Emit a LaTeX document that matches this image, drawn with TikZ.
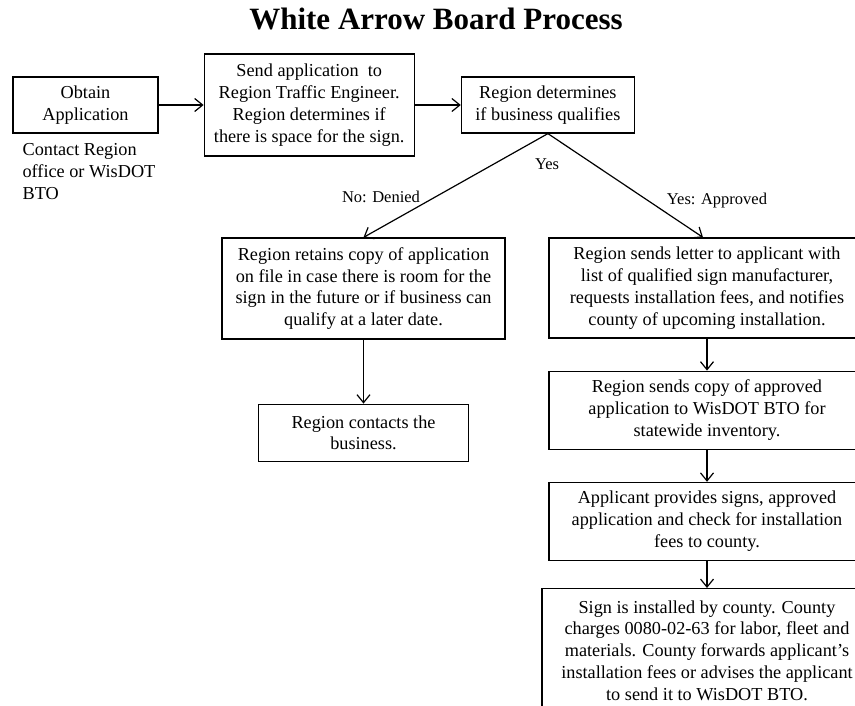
\documentclass[tikz,border=0pt]{standalone}
\usepackage{fontspec}
\setmainfont{Liberation Serif}
\usetikzlibrary{arrows.meta, positioning}

\begin{document}
\begin{tikzpicture}[
    x=1pt, y=-1pt,
    node distance=40pt,
    stepbox/.style={
        rectangle,
        draw=black, line width=1.2pt,
        align=center, inner sep=4pt,
        font=\fontsize{18.25}{21.8}\selectfont
    },
    note/.style={
        align=left, inner sep=0pt,
        font=\fontsize{18.25}{21.8}\selectfont
    },
    tag/.style={
        inner sep=0pt,
        font=\fontsize{16.5}{20}\selectfont
    },
    arrow/.style={
        -{Straight Barb[length=8pt,width=13pt]}, line width=1.2pt
    }
]

% Frame
\useasboundingbox (0,0) rectangle (855,706);
\clip (0,0) rectangle (855,706);

% Title
\node[font=\fontsize{31}{36}\selectfont\bfseries, inner sep=0pt] (title) at (436,19) {White Arrow Board Process};

% Top row
\node[stepbox, minimum width=145pt, minimum height=56pt] (obtain) at (85.5,105) {Obtain\\Application};
\node[stepbox, right=45pt of obtain, minimum width=210pt, minimum height=102pt] (send) {Send application ~to\\Region Traffic Engineer.\\Region determines if\\there is space for the sign.};
\node[stepbox, right=46pt of send, minimum width=173pt, minimum height=56pt] (qualify) {Region determines\\if business qualifies};

% Note under first box
\node[note, anchor=north west] (contactnote) at ([xshift=10pt,yshift=-10pt]obtain.south west) {Contact Region\\office or WisDOT\\BTO};

% Denied branch
\node[stepbox, minimum width=283pt, minimum height=101pt] (retain) at (363.5,288.5) {Region retains copy of application\\on file in case there is room for the\\sign in the future or if business can\\qualify at a later date.};
\node[stepbox, below=64pt of retain, minimum width=210pt, minimum height=57pt] (contact) {Region contacts the\\business.};

% Approved branch
\node[stepbox, minimum width=316pt, minimum height=100pt] (letter) at (707,288) {Region sends letter to applicant with\\list of qualified sign manufacturer,\\requests installation fees, and notifies\\county of upcoming installation.};
\node[stepbox, below=32pt of letter, minimum width=316pt, minimum height=78pt] (copy) {Region sends copy of approved\\application to WisDOT BTO for\\statewide inventory.};
\node[stepbox, below=32pt of copy, minimum width=316pt, minimum height=78pt] (provide) {Applicant provides signs, approved\\application and check for installation\\fees to county.};
\node[stepbox, below=27pt of provide, minimum width=330pt, minimum height=124pt] (install) {Sign is installed by county. County\\charges 0080-02-63 for labor, fleet and\\materials. County forwards applicant's\\installation fees or advises the applicant\\to send it to WisDOT BTO.};

% Branch labels
\node[tag] (yes) at (547,164) {Yes};
\node[tag] (denied) at (381,197) {No: Denied};
\node[tag] (approved) at (717,201) {Yes: Approved};

% Arrows
\draw[arrow] (obtain) -- (send);
\draw[arrow] (send) -- (qualify);
\draw[arrow] (qualify.south) -- (retain.north);
\draw[arrow] (qualify.south) -- ([xshift=-4pt]letter.north);
\draw[arrow] (retain) -- (contact);
\draw[arrow] (letter) -- (copy);
\draw[arrow] (copy) -- (provide);
\draw[arrow] (provide) -- (install);

\end{tikzpicture}
\end{document}
